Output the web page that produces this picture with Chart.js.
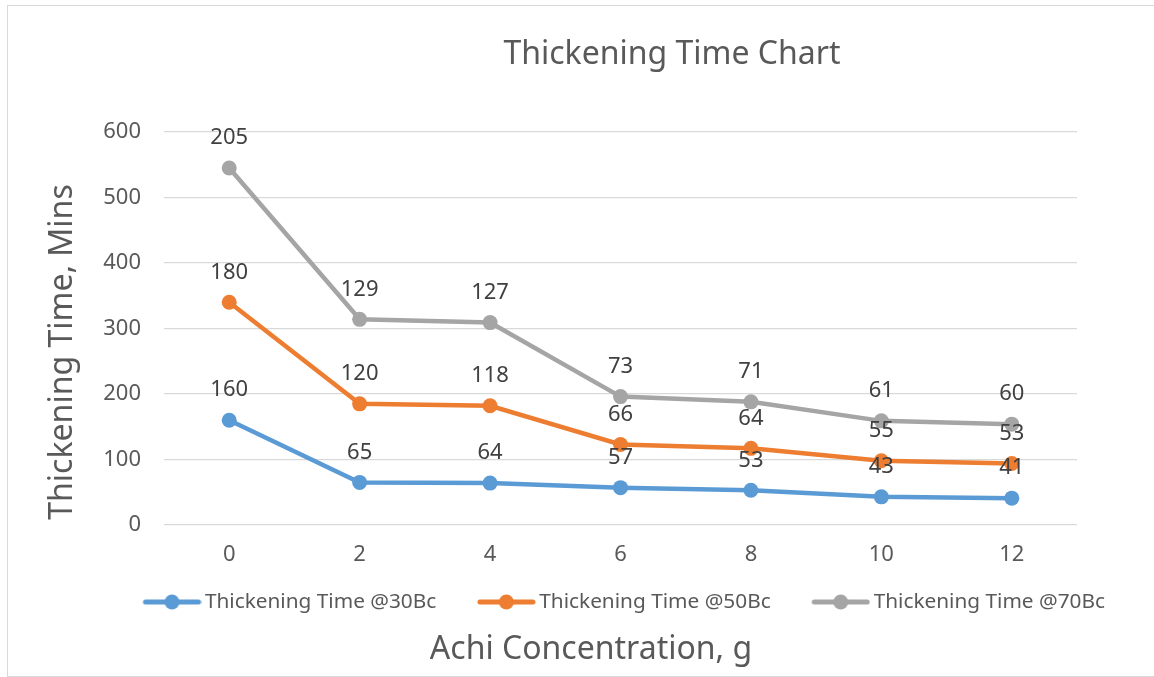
<!DOCTYPE html>
<html>
<head>
<meta charset="utf-8">
<script src="https://cdn.jsdelivr.net/npm/chart.js@4.4.0/dist/chart.umd.min.js"></script>
<style>
    html, body { margin: 0; padding: 0; background: #fff; }
    #wrap { position: relative; width: 1154px; height: 677px; overflow: hidden; }
    #wrap canvas { position: absolute; left: 0; top: 0; }
    #frame { position: absolute; left: 7px; top: 5px; width: 1170px; height: 672px;
             border: 1.5px solid #d9d9d9; box-sizing: border-box; pointer-events: none; }
</style>
</head>
<body>
<div id="wrap">
    <canvas id="chart" width="1154" height="677"></canvas>
    <div id="frame"></div>
</div>
<script>
// data (stacked line chart, labels show each series' own value)
const concentrations = ['0', '2', '4', '6', '8', '10', '12'];
const time30Bc = [160, 65, 64, 57, 53, 43, 41];
const time50Bc = [180, 120, 118, 66, 64, 55, 53];
const time70Bc = [205, 129, 127, 73, 71, 61, 60];
const seriesNames = ['Thickening Time @30Bc', 'Thickening Time @50Bc', 'Thickening Time @70Bc'];
const yTicks = [0, 100, 200, 300, 400, 500, 600];

const colors = ['#5B9BD5', '#ED7D31', '#A5A5A5'];
const FONT = '"Noto Sans", "Open Sans", sans-serif';

// legend icon: short line with a dot, pushed to the right of its box
function legendIcon(color) {
    const c = document.createElement('canvas');
    c.width = 96; c.height = 18;
    const g = c.getContext('2d');
    g.strokeStyle = color;
    g.lineWidth = 5;
    g.lineCap = 'round';
    g.beginPath();
    g.moveTo(40, 9); g.lineTo(93, 9);
    g.stroke();
    g.fillStyle = color;
    g.beginPath();
    g.arc(66.5, 9, 7.5, 0, Math.PI * 2);
    g.fill();
    return c;
}

// titles drawn at fixed spots, the way they sit in the reference
const titlesPlugin = {
    id: 'titles',
    afterLayout(chart) {
        // Excel puts the legend row a bit right of the canvas centre
        const lg = chart.legend;
        if (!lg || !lg.lineWidths) return;
        const pad = lg.options.labels.padding;
        const x0 = (lg.left + pad + lg.right - lg.lineWidths[0]) / 2;
        const dx = 112.5 - x0;
        lg.left += dx;
        lg.right += dx;
    },
    afterDraw(chart) {
        const ctx = chart.ctx;
        ctx.save();
        ctx.fillStyle = '#595959';
        ctx.textAlign = 'center';
        ctx.textBaseline = 'middle';
        ctx.font = '32px ' + FONT;
        ctx.fillText('Thickening Time Chart', 672, 55);
        ctx.fillText('Achi Concentration, g', 591, 650);
        ctx.translate(72, 352);
        ctx.rotate(-Math.PI / 2);
        ctx.textBaseline = 'alphabetic';
        ctx.fillText('Thickening Time, Mins', 0, 0);
        ctx.restore();
    }
};

// value labels above each point
const valueLabels = {
    id: 'valueLabels',
    afterDatasetsDraw(chart) {
        const ctx = chart.ctx;
        ctx.save();
        ctx.fillStyle = '#404040';
        ctx.font = '22px ' + FONT;
        ctx.textAlign = 'center';
        ctx.textBaseline = 'middle';
        chart.data.datasets.forEach((ds, di) => {
            const meta = chart.getDatasetMeta(di);
            if (meta.hidden) return;
            meta.data.forEach((pt, i) => {
                ctx.fillText(String(ds.data[i]), pt.x, pt.y - 30);
            });
        });
        ctx.restore();
    }
};

const series = [time30Bc, time50Bc, time70Bc];

new Chart(document.getElementById('chart'), {
    type: 'line',
    data: {
        labels: concentrations,
        datasets: series.map((vals, i) => ({
            label: seriesNames[i],
            data: vals,
            borderColor: colors[i],
            backgroundColor: colors[i],
            borderWidth: 4.5,
            pointRadius: 7.5,
            pointHoverRadius: 7.5,
            pointBorderWidth: 0,
            fill: false,
            tension: 0
        }))
    },
    options: {
        responsive: false,
        animation: false,
        layout: { padding: { left: 10, right: 77, top: 132, bottom: 54.6 } },
        plugins: {
            title: { display: false },
            tooltip: { enabled: false },
            legend: {
                position: 'bottom',
                labels: {
                    usePointStyle: true,
                    pointStyleWidth: 82,
                    padding: 10.6,
                    color: '#595959',
                    font: { family: FONT, size: 20.8 },
                    generateLabels(chart) {
                        const items = Chart.defaults.plugins.legend.labels.generateLabels(chart);
                        items.forEach(it => { it.pointStyle = legendIcon(colors[it.datasetIndex]); });
                        return items;
                    }
                }
            }
        },
        scales: {
            x: {
                offset: true,
                grid: { display: false, drawTicks: false },
                border: { display: false },
                ticks: { color: '#595959', font: { family: FONT, size: 22 }, padding: 17 },
                afterFit(scale) { scale.height = 56; }
            },
            y: {
                stacked: true,
                min: 0,
                max: 600,
                afterBuildTicks(scale) { scale.ticks = yTicks.map(v => ({ value: v })); },
                grid: { color: '#d9d9d9', lineWidth: 1.3, drawTicks: false },
                border: { display: false },
                ticks: { color: '#595959', font: { family: FONT, size: 22 }, padding: 23 },
                afterFit(scale) { scale.width = 154; }
            }
        }
    },
    plugins: [titlesPlugin, valueLabels]
});
</script>
</body>
</html>
